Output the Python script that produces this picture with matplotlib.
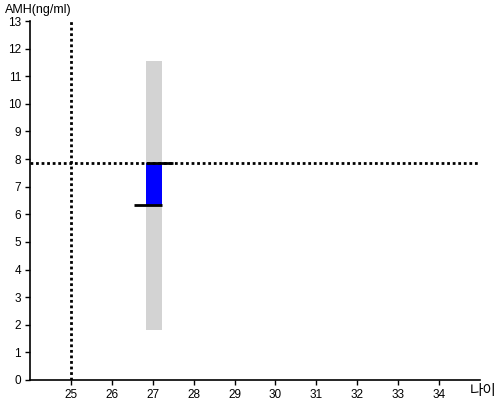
import matplotlib
matplotlib.use("Agg")
import matplotlib.pyplot as plt

plt.rcParams['font.family'] = ['Liberation Sans', 'Noto Sans CJK KR', 'DejaVu Sans']

# data
age = 27
range_low, range_high = 1.8, 11.55
amh_prev, amh_curr = 6.34, 7.85
ref_age = 25
ref_amh = 7.85
xticks = list(range(25, 35))
yticks = list(range(0, 14))

fig = plt.figure(figsize=(5, 4), dpi=100)
ax = fig.add_axes([0.06, 0.05, 0.90, 0.8975])

w = 0.39
ax.bar([age + 0.02], [range_high - range_low], bottom=[range_low], width=w, color='#d3d3d3', zorder=1)
ax.bar([age + 0.02], [amh_curr - amh_prev], bottom=[amh_prev], width=w, color='#0000ff', zorder=2)
ax.hlines(amh_prev, age - 0.46, age + 0.22, color='black', lw=2, zorder=3)
ax.hlines(amh_curr, age - 0.17, age + 0.49, color='black', lw=2, zorder=3)
ax.axvline(ref_age, color='black', ls=(0, (1, 1)), lw=2, zorder=4)
ax.axhline(ref_amh, color='black', ls=(0, (1, 1)), lw=2, zorder=4)

ax.set_xlim(24, 35)
ax.set_ylim(0, 13)
ax.set_xticks(xticks)
ax.set_yticks(yticks)
ax.tick_params(labelsize=8.5, length=3.5, width=1, colors='black', pad=3)
for s in ['top', 'right']:
    ax.spines[s].set_visible(False)
for s in ['left', 'bottom']:
    ax.spines[s].set_linewidth(1.2)

fig.text(0.01, 0.975, 'AMH(ng/ml)', fontsize=9, ha='left', va='center')
fig.text(0.993, 0.022, '나이', fontsize=10.5, ha='right', va='center')

fig.savefig('out.png', dpi=100)
